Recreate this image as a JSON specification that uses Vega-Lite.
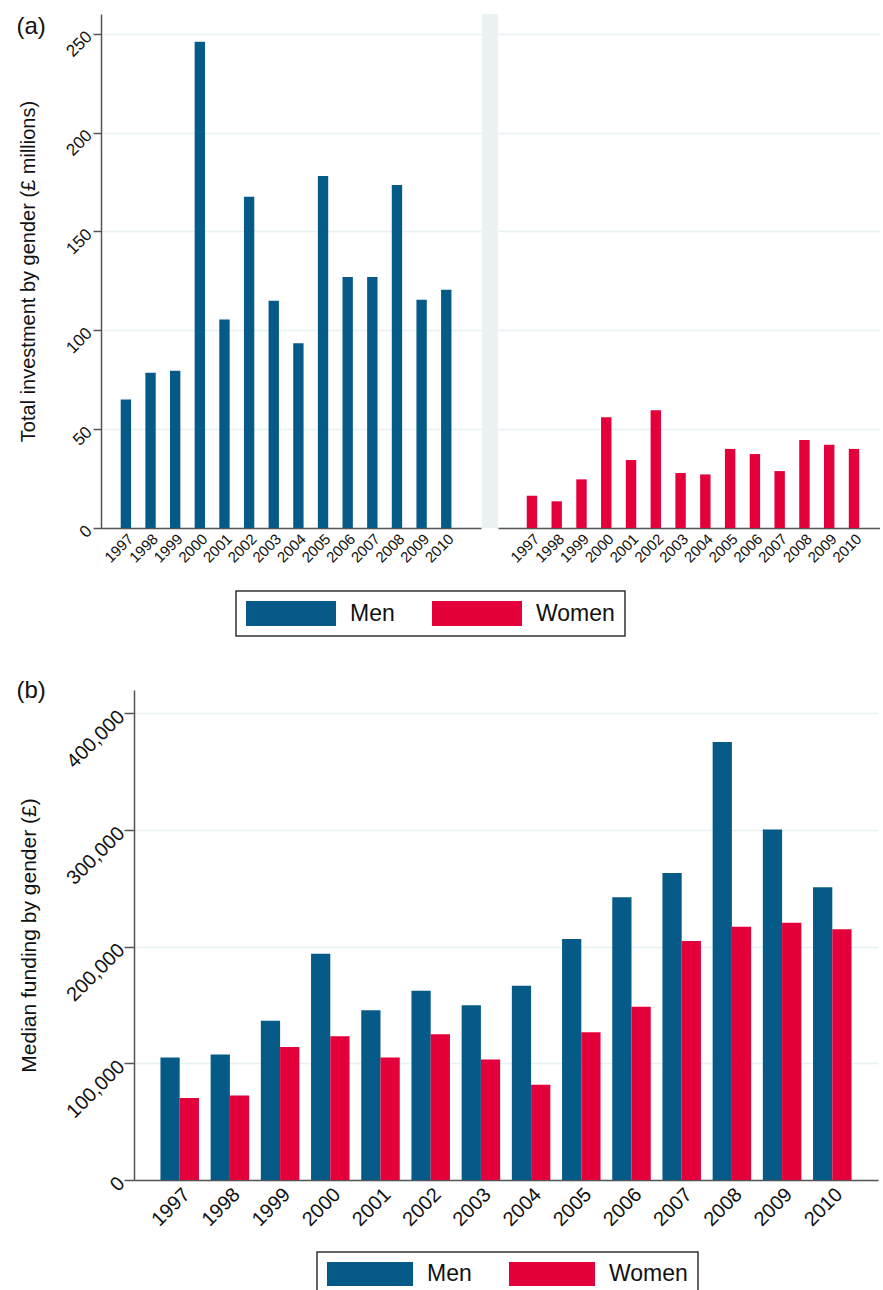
{
  "$schema": "https://vega.github.io/schema/vega-lite/v6.json",
  "background": "white",
  "padding": {"left": 16, "top": 13, "right": 0, "bottom": 0},
  "config": {
    "font": "Liberation Sans",
    "view": {"stroke": null},
    "axis": {
      "domainColor": "#555555", "domainWidth": 1.5,
      "tickColor": "#555555", "tickWidth": 1.5,
      "gridColor": "#e8f1f4", "gridWidth": 1.5,
      "labelColor": "#111111", "titleColor": "#111111",
      "titleFontWeight": "normal",
      "labelFont": "Liberation Sans", "titleFont": "Liberation Sans"
    },
    "legend": {"strokeWidth": 1.5},
    "title": {"fontWeight": "normal", "font": "Liberation Sans", "color": "#111111"}
  },
  "datasets": {
    "total": [
      {"year": 1997, "gender": "Men", "value": 65},
      {"year": 1998, "gender": "Men", "value": 78.5},
      {"year": 1999, "gender": "Men", "value": 79.5},
      {"year": 2000, "gender": "Men", "value": 246},
      {"year": 2001, "gender": "Men", "value": 105.5},
      {"year": 2002, "gender": "Men", "value": 167.5},
      {"year": 2003, "gender": "Men", "value": 115},
      {"year": 2004, "gender": "Men", "value": 93.5},
      {"year": 2005, "gender": "Men", "value": 178},
      {"year": 2006, "gender": "Men", "value": 127},
      {"year": 2007, "gender": "Men", "value": 127},
      {"year": 2008, "gender": "Men", "value": 173.5},
      {"year": 2009, "gender": "Men", "value": 115.5},
      {"year": 2010, "gender": "Men", "value": 120.5},
      {"year": 1997, "gender": "Women", "value": 16.3},
      {"year": 1998, "gender": "Women", "value": 13.5},
      {"year": 1999, "gender": "Women", "value": 24.6},
      {"year": 2000, "gender": "Women", "value": 56},
      {"year": 2001, "gender": "Women", "value": 34.4},
      {"year": 2002, "gender": "Women", "value": 59.5},
      {"year": 2003, "gender": "Women", "value": 27.8},
      {"year": 2004, "gender": "Women", "value": 27.1},
      {"year": 2005, "gender": "Women", "value": 40},
      {"year": 2006, "gender": "Women", "value": 37.4},
      {"year": 2007, "gender": "Women", "value": 28.8},
      {"year": 2008, "gender": "Women", "value": 44.5},
      {"year": 2009, "gender": "Women", "value": 42.1},
      {"year": 2010, "gender": "Women", "value": 40}
    ],
    "median": [
      {"year": 1997, "gender": "Men", "value": 105000},
      {"year": 1998, "gender": "Men", "value": 107500},
      {"year": 1999, "gender": "Men", "value": 136600},
      {"year": 2000, "gender": "Men", "value": 194000},
      {"year": 2001, "gender": "Men", "value": 145500},
      {"year": 2002, "gender": "Men", "value": 162300},
      {"year": 2003, "gender": "Men", "value": 149800},
      {"year": 2004, "gender": "Men", "value": 166600},
      {"year": 2005, "gender": "Men", "value": 206600},
      {"year": 2006, "gender": "Men", "value": 242300},
      {"year": 2007, "gender": "Men", "value": 263100},
      {"year": 2008, "gender": "Men", "value": 375500},
      {"year": 2009, "gender": "Men", "value": 300500},
      {"year": 2010, "gender": "Men", "value": 250900},
      {"year": 1997, "gender": "Women", "value": 70200},
      {"year": 1998, "gender": "Women", "value": 72400},
      {"year": 1999, "gender": "Women", "value": 114100},
      {"year": 2000, "gender": "Women", "value": 123300},
      {"year": 2001, "gender": "Women", "value": 105000},
      {"year": 2002, "gender": "Women", "value": 125000},
      {"year": 2003, "gender": "Women", "value": 103300},
      {"year": 2004, "gender": "Women", "value": 81600},
      {"year": 2005, "gender": "Women", "value": 126700},
      {"year": 2006, "gender": "Women", "value": 148400},
      {"year": 2007, "gender": "Women", "value": 204900},
      {"year": 2008, "gender": "Women", "value": 217100},
      {"year": 2009, "gender": "Women", "value": 220500},
      {"year": 2010, "gender": "Women", "value": 214900}
    ]
  },
  "columns": 1,
  "spacing": 41,
  "align": "none",
  "resolve": {"scale": {"color": "independent"}, "legend": {"color": "independent"}},
  "concat": [
    {
      "title": {"text": "(a)", "anchor": "start", "frame": "bounds", "fontSize": 24, "offset": -25},
      "spacing": 0,
      "resolve": {"scale": {"color": "shared"}, "legend": {"color": "shared"}},
      "hconcat": [
        {
          "width": 1, "height": 514,
          "data": {"values": [{}]},
          "mark": {"type": "rule", "opacity": 0},
          "encoding": {}
        },
        {
          "width": 380, "height": 514,
          "data": {"name": "total"},
          "transform": [{"filter": "datum.gender === 'Men'"}],
          "mark": {"type": "bar"},
          "encoding": {
            "x": {"field": "year", "type": "ordinal",
              "scale": {"paddingInner": 0.58, "paddingOuter": 1.045, "align": 0.4},
              "axis": {"title": null, "labelAngle": -45, "labelFontSize": 15, "ticks": false, "labelPadding": 3}},
            "y": {"field": "value", "type": "quantitative",
              "scale": {"domain": [0, 260]},
              "axis": {"values": [0, 50, 100, 150, 200, 250], "title": "Total investment by gender (£ millions)",
                "titleFontSize": 20, "labelFontSize": 17, "labelAngle": -45, "labelAlign": "right", "labelBaseline": "middle",
                "tickSize": 8, "labelPadding": 4, "titlePadding": 24}},
            "color": {"field": "gender", "type": "nominal",
              "scale": {"domain": ["Men", "Women"], "range": ["#055a87", "#e4003b"]},
              "legend": {"title": null, "orient": "none", "legendX": 219, "legendY": 577, "direction": "horizontal",
                "symbolType": "M-1,-1H6.2V1H-1Z", "symbolSize": 625, "symbolStrokeWidth": 0,
                "labelFontSize": 23, "labelOffset": 79, "columnPadding": 37, "padding": 10,
                "strokeColor": "#333333", "labelColor": "#111111", "labelFont": "Liberation Sans"}}
          }
        },
        {
          "width": 16, "height": 514,
          "data": {"values": [{}]},
          "mark": {"type": "rule", "opacity": 0},
          "encoding": {},
          "view": {"fill": "#eaf2f4", "stroke": null}
        },
        {
          "width": 382, "height": 514,
          "data": {"name": "total"},
          "transform": [{"filter": "datum.gender === 'Women'"}],
          "mark": {"type": "bar"},
          "encoding": {
            "x": {"field": "year", "type": "ordinal",
              "scale": {"paddingInner": 0.58, "paddingOuter": 1.045, "align": 0.58},
              "axis": {"title": null, "labelAngle": -45, "labelFontSize": 15, "ticks": false, "labelPadding": 3}},
            "y": {"field": "value", "type": "quantitative",
              "scale": {"domain": [0, 260]},
              "axis": {"values": [0, 50, 100, 150, 200, 250], "title": null, "labels": false, "ticks": false, "domain": false}},
            "color": {"field": "gender", "type": "nominal",
              "scale": {"domain": ["Men", "Women"], "range": ["#055a87", "#e4003b"]},
              "legend": {"title": null, "orient": "none", "legendX": 219, "legendY": 577, "direction": "horizontal",
                "symbolType": "M-1,-1H6.2V1H-1Z", "symbolSize": 625, "symbolStrokeWidth": 0,
                "labelFontSize": 23, "labelOffset": 79, "columnPadding": 37, "padding": 10,
                "strokeColor": "#333333", "labelColor": "#111111", "labelFont": "Liberation Sans"}}
          }
        }
      ]
    },
    {
      "title": {"text": "(b)", "anchor": "start", "frame": "bounds", "fontSize": 24, "offset": -13},
      "spacing": 0,
      "hconcat": [
        {
          "width": 1, "height": 490,
          "data": {"values": [{}]},
          "mark": {"type": "rule", "opacity": 0},
          "encoding": {}
        },
        {
          "width": 744, "height": 490,
          "data": {"name": "median"},
          "mark": {"type": "bar"},
          "encoding": {
            "x": {"field": "year", "type": "ordinal",
              "scale": {"paddingInner": 0.233, "paddingOuter": 0.527},
              "axis": {"title": null, "labelAngle": -45, "labelFontSize": 20, "ticks": false, "labelPadding": 4}},
            "xOffset": {"field": "gender", "type": "nominal",
              "scale": {"domain": ["Men", "Women"], "paddingInner": 0, "paddingOuter": 0}},
            "y": {"field": "value", "type": "quantitative",
              "scale": {"domain": [0, 420000]},
              "axis": {"values": [0, 100000, 200000, 300000, 400000], "format": ",d",
                "title": "Median funding by gender (£)", "titleFontSize": 21, "labelFontSize": 20,
                "labelAngle": -45, "labelAlign": "right", "labelBaseline": "middle",
                "tickSize": 10, "labelPadding": 3, "titlePadding": 23}},
            "color": {"field": "gender", "type": "nominal",
              "scale": {"domain": ["Men", "Women"], "range": ["#055a87", "#e4003b"]},
              "legend": {"title": null, "orient": "none", "legendX": 300, "legendY": 562, "direction": "horizontal",
                "symbolType": "M-1,-1H6.167V1H-1Z", "symbolSize": 576, "symbolStrokeWidth": 0,
                "labelFontSize": 23, "labelOffset": 76, "columnPadding": 37, "padding": 10,
                "strokeColor": "#333333", "labelColor": "#111111", "labelFont": "Liberation Sans"}}
          }
        }
      ]
    }
  ]
}
